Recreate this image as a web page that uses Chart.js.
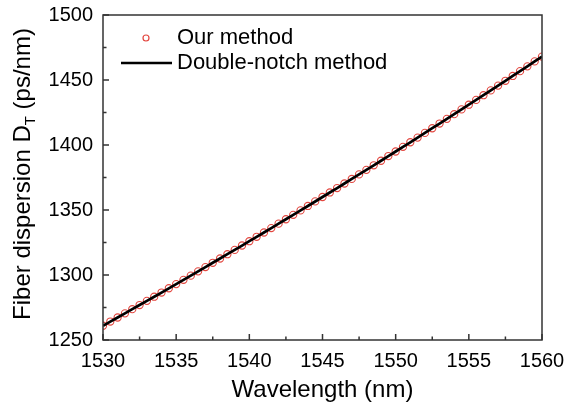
<!DOCTYPE html>
<html>
<head>
<meta charset="utf-8">
<script src="https://cdn.jsdelivr.net/npm/chart.js@4"></script>
<style>
  html, body { margin: 0; padding: 0; background: #fff; }
  #wrap { width: 569px; height: 405px; }
</style>
</head>
<body>
<div id="wrap"><canvas id="myChart" width="569" height="405"></canvas></div>
<script>
// wavelengths of the measured points (nm)
var wavelength = [1530,1530.5,1531,1531.5,1532,1532.5,1533,1533.5,1534,1534.5,1535,1535.5,1536,1536.5,1537,1537.5,1538,1538.5,1539,1539.5,
  1540,1540.5,1541,1541.5,1542,1542.5,1543,1543.5,1544,1544.5,1545,1545.5,1546,1546.5,1547,1547.5,1548,1548.5,1549,1549.5,
  1550,1550.5,1551,1551.5,1552,1552.5,1553,1553.5,1554,1554.5,1555,1555.5,1556,1556.5,1557,1557.5,1558,1558.5,1559,1559.5,1560];
// our method (red circles), ps/nm
var ourMethod = [1261.0,1264.2,1267.3,1270.5,1273.7,1276.9,1280.1,1283.3,1286.5,1289.8,1293.0,1296.3,1299.5,1302.8,1306.1,1309.4,1312.7,1316.0,1319.3,1322.7,
  1326.0,1329.4,1332.7,1336.1,1339.5,1342.9,1346.3,1349.7,1353.1,1356.6,1360.0,1363.5,1366.9,1370.4,1373.9,1377.4,1380.9,1384.4,1387.9,1391.5,
  1395.0,1398.6,1402.1,1405.7,1409.3,1412.9,1416.5,1420.1,1423.7,1427.4,1431.0,1434.7,1438.3,1442.0,1445.7,1449.4,1453.1,1456.8,1460.5,1464.3,1468.0];
// double-notch method (black line)
var notchWavelength = [1530,1531,1532,1533,1534,1535,1536,1537,1538,1539,1540,1541,1542,1543,1544,1545,1546,1547,1548,1549,1550,1551,1552,1553,1554,1555,1556,1557,1558,1559,1560];
var doubleNotch = [1261.0,1267.3,1273.7,1280.1,1286.5,1293.0,1299.5,1306.1,1312.7,1319.3,1326.0,1332.7,1339.5,1346.3,1353.1,1360.0,1366.9,1373.9,1380.9,1387.9,
  1395.0,1402.1,1409.3,1416.5,1423.7,1431.0,1438.3,1445.7,1453.1,1460.5,1468.0];

var xTicks = [1530,1535,1540,1545,1550,1555,1560];
var yTicks = [1250,1300,1350,1400,1450,1500];

var FONT = 'Arial, "Liberation Sans", sans-serif';
var RED = '#e3463f';

function pts(xs, ys) {
  return xs.map(function (x, i) { return { x: x, y: ys[i] }; });
}

// frame, inward ticks, axis titles and legend
var decor = {
  id: 'decor',
  afterDraw: function (chart) {
    var c = chart.ctx, a = chart.chartArea;
    var xs = chart.scales.x, ys = chart.scales.y;
    c.save();
    c.strokeStyle = '#333';
    c.lineWidth = 1.5;
    c.strokeRect(a.left, a.top, a.right - a.left, a.bottom - a.top);
    c.beginPath();
    for (var v = 1530; v <= 1560; v += 2.5) {
      var px = xs.getPixelForValue(v);
      var len = (v % 5 === 0) ? 6 : 3.5;
      c.moveTo(px, a.bottom); c.lineTo(px, a.bottom - len);
    }
    for (var w = 1250; w <= 1500; w += 25) {
      var py = ys.getPixelForValue(w);
      var l2 = (w % 50 === 0) ? 6 : 3.5;
      c.moveTo(a.left, py); c.lineTo(a.left + l2, py);
    }
    c.stroke();

    c.fillStyle = '#000';
    // x title
    c.font = '24px ' + FONT;
    c.textAlign = 'center';
    c.textBaseline = 'middle';
    c.fillText('Wavelength (nm)', (a.left + a.right) / 2, 390);

    // y title with subscript
    c.save();
    c.translate(30, 174);
    c.rotate(-Math.PI / 2);
    c.textBaseline = 'alphabetic';
    var p1 = 'Fiber dispersion D', sub = 'T', p2 = ' (ps/nm)';
    c.font = '24px ' + FONT;
    var w1 = c.measureText(p1).width, w3 = c.measureText(p2).width;
    c.font = '15px ' + FONT;
    var w2 = c.measureText(sub).width;
    var x0 = -(w1 + w2 + w3) / 2;
    c.textAlign = 'left';
    c.font = '24px ' + FONT;
    c.fillText(p1, x0, 0);
    c.font = '15px ' + FONT;
    c.fillText(sub, x0 + w1, 5);
    c.font = '24px ' + FONT;
    c.fillText(p2, x0 + w1 + w2, 0);
    c.restore();

    // legend
    c.font = '22px ' + FONT;
    c.textAlign = 'left';
    c.textBaseline = 'middle';
    c.strokeStyle = RED;
    c.lineWidth = 1.2;
    c.beginPath();
    c.arc(146, 38, 3, 0, Math.PI * 2);
    c.stroke();
    c.fillText('Our method', 177, 38);
    c.strokeStyle = '#000';
    c.lineWidth = 2.5;
    c.beginPath();
    c.moveTo(121, 63); c.lineTo(172, 63);
    c.stroke();
    c.fillText('Double-notch method', 177, 63);
    c.restore();
  }
};

var ctx = document.getElementById('myChart');
var myChart = new Chart(ctx, {
  type: 'scatter',
  data: {
    datasets: [
      {
        label: 'Double-notch method',
        data: pts(notchWavelength, doubleNotch),
        showLine: true,
        borderColor: '#000',
        borderWidth: 2.7,
        pointRadius: 0,
        tension: 0.3,
        fill: false,
        order: 0
      },
      {
        label: 'Our method',
        data: pts(wavelength, ourMethod),
        showLine: false,
        pointStyle: 'circle',
        pointRadius: 3.6,
        pointBorderWidth: 1.1,
        pointBorderColor: RED,
        pointBackgroundColor: 'rgba(0,0,0,0)',
        order: 1
      }
    ]
  },
  options: {
    responsive: false,
    animation: false,
    layout: { padding: { top: 15, right: 27, left: 0, bottom: 0 } },
    plugins: { legend: { display: false }, tooltip: { enabled: false } },
    scales: {
      x: {
        type: 'linear',
        min: 1530, max: 1560,
        afterFit: function (s) { s.height = 65; s.paddingLeft = 0; s.paddingRight = 0; },
        afterBuildTicks: function (s) { s.ticks = xTicks.map(function (v) { return { value: v }; }); },
        grid: { display: false, drawTicks: false },
        border: { display: false },
        ticks: {
          color: '#000', padding: 9, maxRotation: 0, font: { size: 20, family: FONT },
          callback: function (v) { return String(v); }
        }
      },
      y: {
        type: 'linear',
        min: 1250, max: 1500,
        afterFit: function (s) { s.width = 103; s.paddingTop = 0; s.paddingBottom = 0; },
        afterBuildTicks: function (s) { s.ticks = yTicks.map(function (v) { return { value: v }; }); },
        grid: { display: false, drawTicks: false },
        border: { display: false },
        ticks: {
          color: '#000', padding: 10, font: { size: 20, family: FONT },
          callback: function (v) { return String(v); }
        }
      }
    }
  },
  plugins: [decor]
});
</script>
</body>
</html>
